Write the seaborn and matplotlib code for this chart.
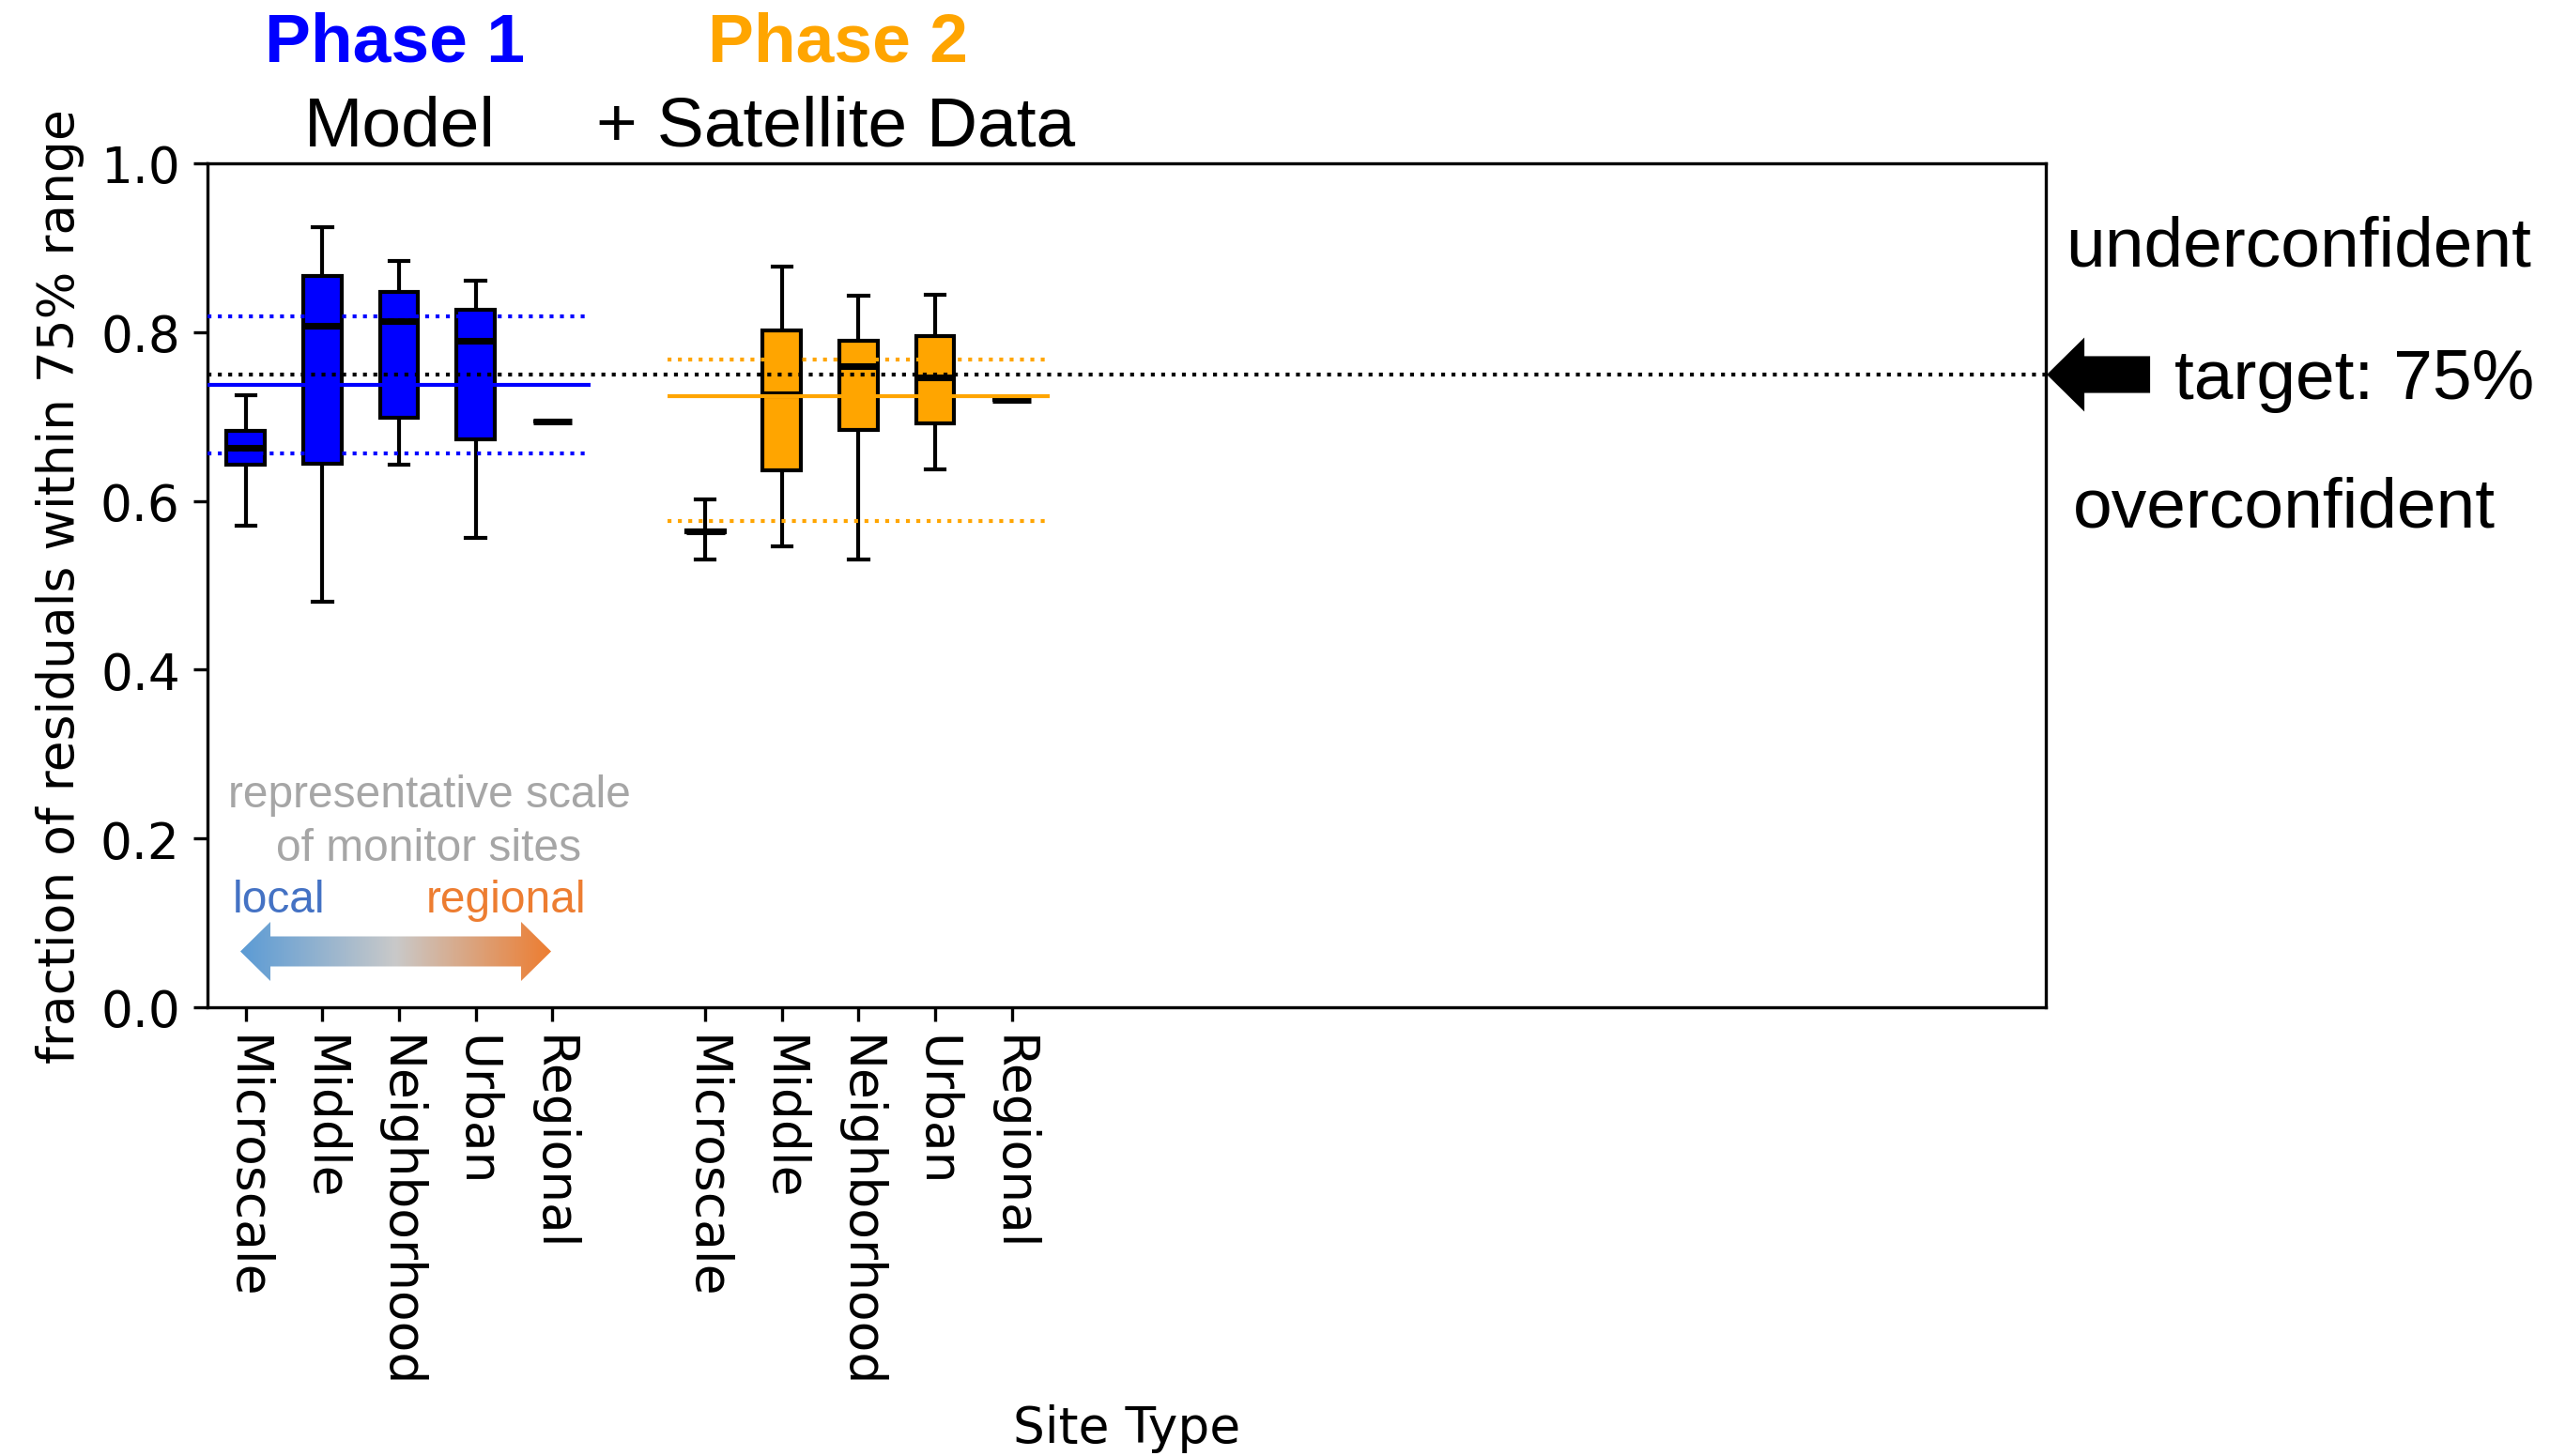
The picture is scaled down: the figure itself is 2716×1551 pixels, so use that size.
import numpy as np
import pandas as pd
import matplotlib
matplotlib.use("Agg")
import matplotlib.pyplot as plt
import matplotlib.patches as mpatches
from matplotlib.colors import LinearSegmentedColormap
import seaborn as sns

# ---------------- data ----------------
site_types = ["Microscale", "Middle", "Neighborhood", "Urban", "Regional"]
phases = ["Phase 1", "Phase 2"]

# five-number summaries per site type (min, q1, median, q3, max)
p1_min = [0.571, 0.480, 0.643, 0.556, 0.694]
p1_q1 = [0.643, 0.644, 0.698, 0.673, 0.694]
p1_med = [0.663, 0.808, 0.813, 0.790, 0.694]
p1_q3 = [0.683, 0.866, 0.848, 0.826, 0.694]
p1_max = [0.725, 0.924, 0.884, 0.861, 0.694]

p2_min = [0.531, 0.546, 0.531, 0.637, 0.720]
p2_q1 = [0.563, 0.636, 0.684, 0.692, 0.720]
p2_med = [0.564, 0.726, 0.760, 0.746, 0.720]
p2_q3 = [0.565, 0.802, 0.790, 0.795, 0.720]
p2_max = [0.602, 0.878, 0.843, 0.844, 0.720]

# overall lines per phase: mean and band (lower, upper)
phase_mean = [0.737, 0.724]
phase_low = [0.656, 0.576]
phase_high = [0.819, 0.768]
target = 0.75

# ---------------- build long table ----------------
summaries = [
    (p1_min, p1_q1, p1_med, p1_q3, p1_max),
    (p2_min, p2_q1, p2_med, p2_q3, p2_max),
]
n_sites = len(site_types)
rows = []
for k, (mn, q1, md, q3, mx) in enumerate(summaries):
    for i in range(n_sites):
        pos = i + k * (n_sites + 1)
        for v in (mn[i], q1[i], md[i], q3[i], mx[i]):
            rows.append({"pos": pos, "phase": phases[k], "value": v})
df = pd.DataFrame(rows)

colors = {"Phase 1": "#0000ff", "Phase 2": "#ffa500"}

# ---------------- figure ----------------
W, H, DPI = 2716, 1552, 300
fig = plt.figure(figsize=(W / DPI, H / DPI), dpi=DPI)
ax = fig.add_axes([221 / W, 1 - 1074 / H, 1958 / W, 899 / H])

sns.boxplot(
    data=df, x="pos", y="value", hue="phase", palette=colors,
    native_scale=True, dodge=False, width=0.5, whis=(0, 100),
    saturation=1, linewidth=1.0, linecolor="black", legend=False,
    medianprops=dict(color="black", linewidth=1.7),
    showfliers=False, ax=ax,
)

for k in range(len(phases)):
    x0 = k * (n_sites + 1) - 0.5
    x1 = x0 + n_sites
    c = colors[phases[k]]
    ax.hlines(phase_mean[k], x0, x1, color=c, lw=1.0, zorder=3)
    ax.hlines([phase_low[k], phase_high[k]], x0, x1, color=c, lw=1.0,
              linestyles=":", zorder=3)

ax.axhline(target, color="black", lw=1.0, ls=":", zorder=3)

fs = 12.8
ax.set_xlim(-0.5, 23.5)
ax.set_ylim(0, 1.0)
ticks = [i + k * (n_sites + 1) for k in range(len(phases)) for i in range(n_sites)]
ax.set_xticks(ticks)
ax.set_xticklabels(site_types * len(phases), rotation=270, fontsize=fs)
ax.set_yticks([0.0, 0.2, 0.4, 0.6, 0.8, 1.0])
ax.tick_params(axis="y", labelsize=fs)
ax.set_xlabel("Site Type", fontsize=fs)
ax.set_ylabel("fraction of residuals within 75% range", fontsize=fs)

# ---------------- titles ----------------
tf = "Liberation Sans"
fig.text(421 / W, 1 - 65 / H, "Phase 1", color="#0000ff", fontsize=17.6,
         fontweight="bold", family=tf, ha="center", va="baseline")
fig.text(426 / W, 1 - 155 / H, "Model", color="black", fontsize=18,
         family=tf, ha="center", va="baseline")
fig.text(892 / W, 1 - 65 / H, "Phase 2", color="#ffa500", fontsize=17.6,
         fontweight="bold", family=tf, ha="center", va="baseline")
fig.text(890 / W, 1 - 155 / H, "+ Satellite Data", color="black", fontsize=18,
         family=tf, ha="center", va="baseline")

# right annotations
fig.text(2200 / W, 1 - 283 / H, "underconfident", fontsize=18, family=tf,
         ha="left", va="baseline")
fig.text(2316 / W, 1 - 425 / H, "target: 75%", fontsize=18, family=tf,
         ha="left", va="baseline")
fig.text(2208 / W, 1 - 562 / H, "overconfident", fontsize=18, family=tf,
         ha="left", va="baseline")

arrow = mpatches.FancyArrow(2288 / DPI, (H - 400) / DPI, -(2288 - 2183) / DPI, 0,
                            width=35 / DPI, head_width=69 / DPI,
                            head_length=35 / DPI, length_includes_head=True,
                            color="black", transform=fig.dpi_scale_trans)
fig.add_artist(arrow)

# ---------------- scale annotation inside axes ----------------
gray = "#a6a6a6"
ax.text((457 - 221) / 1958, (1074 - 860) / 899, "representative scale",
        transform=ax.transAxes, color=gray, fontsize=11.5, family=tf,
        ha="center", va="baseline")
ax.text((457 - 221) / 1958, (1074 - 917) / 899, "of monitor sites",
        transform=ax.transAxes, color=gray, fontsize=11.5, family=tf,
        ha="center", va="baseline")
ax.text((248 - 221) / 1958, (1074 - 972) / 899, "local",
        transform=ax.transAxes, color="#4472c4", fontsize=11.5, family=tf,
        ha="left", va="baseline")
ax.text((454 - 221) / 1958, (1074 - 972) / 899, "regional",
        transform=ax.transAxes, color="#ed7d31", fontsize=11.5, family=tf,
        ha="left", va="baseline")

# gradient double arrow
aax = fig.add_axes([256 / W, 1 - 1046 / H, 331 / W, 63 / H])
aax.set_axis_off()
aax.set_xlim(0, 1)
aax.set_ylim(0, 1)
cmap = LinearSegmentedColormap.from_list("lr", ["#5b9bd5", "#c9c9c9", "#ed7d31"])
grad = np.linspace(0, 1, 256)[None, :]
im = aax.imshow(grad, extent=(0, 1, 0, 1), aspect="auto", cmap=cmap,
                interpolation="bilinear")
hl = 32 / 331
lo, hi = 0.5 - 16 / 63, 0.5 + 16 / 63
poly = mpatches.Polygon(
    [(0, 0.5), (hl, 1), (hl, hi), (1 - hl, hi), (1 - hl, 1), (1, 0.5),
     (1 - hl, 0), (1 - hl, lo), (hl, lo), (hl, 0)],
    closed=True, facecolor="none", edgecolor="none", transform=aax.transData)
aax.add_patch(poly)
im.set_clip_path(poly)

fig.savefig("out.png", dpi=DPI)
